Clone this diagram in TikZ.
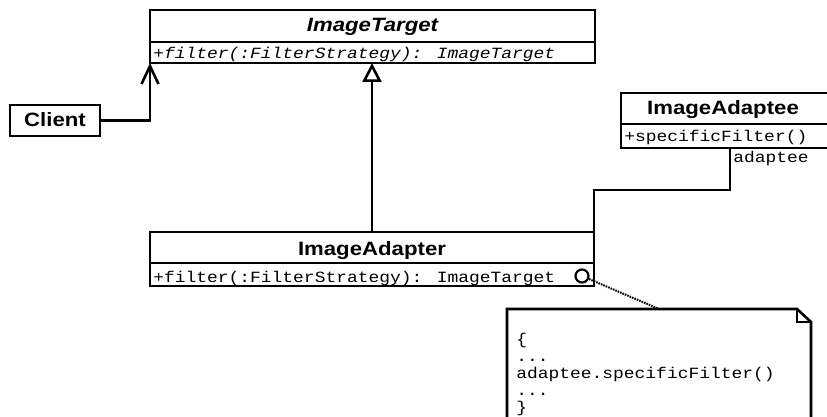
\documentclass[tikz,border=0pt]{standalone}
\usepackage{fontspec}
\setmainfont{Liberation Sans}[FakeStretch=1.15]
\newfontfamily\mono{Liberation Mono}[FakeStretch=1.15]
\usetikzlibrary{arrows.meta}
\begin{document}
\begin{tikzpicture}[x=1pt,y=-1pt,line width=2.6pt,
  box/.style={draw,rectangle,inner sep=0pt,outer sep=0pt,anchor=north west,line width=2.6pt},
  title/.style={font=\fontsize{19.3}{21}\selectfont\bfseries,inner sep=0pt,anchor=base},
  op/.style={font=\fontsize{15.6}{17}\selectfont\mono,inner sep=0pt,anchor=base west},
  conn/.style={draw,line width=2.6pt},
]
\useasboundingbox (0,0) rectangle (827,417);
% ImageTarget
\node[box,minimum width=445pt,minimum height=32pt] (tgtH) at (150,10) {};
\node[box,minimum width=445pt,minimum height=21pt] (tgtB) at (150,42) {};
\node[title,font=\fontsize{19.3}{21}\selectfont\bfseries\itshape] (tgtT) at (372.5,32) {ImageTarget};
\node[op,font=\fontsize{15.6}{17}\selectfont\mono\itshape] (tgtO) at (152,59) {+filter(:FilterStrategy): ImageTarget};
% Client
\node[box,minimum width=90pt,minimum height=31pt] (client) at (10,105) {};
\node[title] (clientT) at (55,127) {Client};
% ImageAdaptee
\node[box,minimum width=208pt,minimum height=31pt] (adeH) at (621,93) {};
\node[box,minimum width=208pt,minimum height=24pt] (adeB) at (621,124) {};
\node[title] (adeT) at (723,115) {ImageAdaptee};
\node[op] (adeO) at (623,142) {+specificFilter()};
% ImageAdapter
\node[box,minimum width=444pt,minimum height=31pt] (adH) at (150,232) {};
\node[box,minimum width=444pt,minimum height=23pt] (adB) at (150,263) {};
\node[title] (adT) at (372,255) {ImageAdapter};
\node[op] (adO) at (152,282) {+filter(:FilterStrategy): ImageTarget};
\node[circle,draw,line width=2.2pt,inner sep=0pt,minimum size=13pt] (circ) at (582,276) {};
% Note
\node[inner sep=0pt,outer sep=0pt,minimum width=304pt,minimum height=121pt,anchor=north west] (note) at (507,309) {};
\draw[line width=2.6pt] (note.north west) -- ([xshift=-14pt]note.north east) -- ([yshift=-13pt]note.north east) -- (note.south east) -- (note.south west) -- cycle;
\draw[line width=1.2pt] ([xshift=-14pt]note.north east) |- ([yshift=-13pt]note.north east);
\node[op,anchor=north west,align=left] (code) at (515,332) {\{\\...\\adaptee.specificFilter()\\...\\\}};
% connectors
\draw[conn,-{Straight Barb[length=18pt,width=17pt,line width=2.6pt]}] (client.east) -| (tgtB.south west);
\draw[conn,-{Triangle[open,length=19pt,width=19pt,line width=2.6pt,fill=white]}] (adH.north) -- (tgtB.south -| adH.north);
\draw[conn] ([xshift=5pt]adeB.south) -- ++(0,42) -| (adH.north east);
\node[op] (roleT) at (732,162) {adaptee};
\draw[line width=2pt,dash pattern=on 1.6pt off 1pt] (circ) -- (note.north);
\end{tikzpicture}
\end{document}
